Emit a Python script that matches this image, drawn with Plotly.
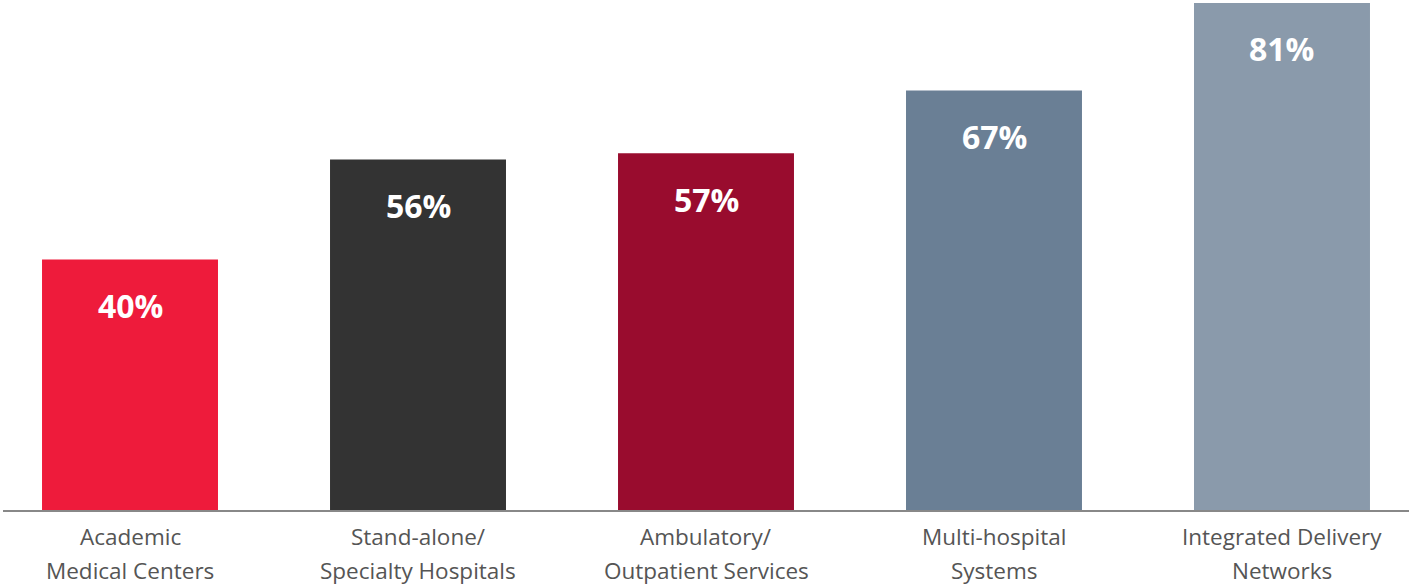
import plotly.graph_objects as go

cat_line1 = ["Academic", "Stand-alone/", "Ambulatory/", "Multi-hospital", "Integrated Delivery"]
cat_line2 = ["Medical Centers", "Specialty Hospitals", "Outpatient Services", "Systems", "Networks"]
values = [40, 56, 57, 67, 81]
labels = ["40%", "56%", "57%", "67%", "81%"]
colors = ["#EE1B3B", "#333333", "#990C2E", "#6A7F95", "#8A9AAB"]

x = list(range(len(values)))

fig = go.Figure()
fig.add_trace(go.Bar(x=x, y=values, marker=dict(color=colors, line=dict(width=0)),
                     width=0.611, hoverinfo="skip"))

for xi, v, t in zip(x, values, labels):
    fig.add_annotation(x=xi, y=v, text=t, showarrow=False, yshift=-46,
                       font=dict(family="Open Sans", size=32, color="white", weight="bold"))

tick_font = dict(family="Open Sans", size=22.5, color="#555555")
for xi, l1, l2 in zip(x, cat_line1, cat_line2):
    fig.add_annotation(x=xi, y=0, text=l1, showarrow=False, yshift=-26, yanchor="middle",
                       font=tick_font)
    fig.add_annotation(x=xi, y=0, text=l2, showarrow=False, yshift=-60, yanchor="middle",
                       font=tick_font)

fig.update_layout(
    width=1409, height=588,
    margin=dict(l=3, r=0, t=0, b=78),
    plot_bgcolor="white", paper_bgcolor="white",
    showlegend=False,
    xaxis=dict(range=[-0.441, 4.441], showticklabels=False,
               showline=True, linecolor="#888888", linewidth=1.5, showgrid=False,
               zeroline=False, ticks=""),
    yaxis=dict(range=[0, 81.47], visible=False, showgrid=False, zeroline=False),
)

fig.write_html("out.html", config={"displayModeBar": False},
               post_script="document.body.style.margin='0';")
